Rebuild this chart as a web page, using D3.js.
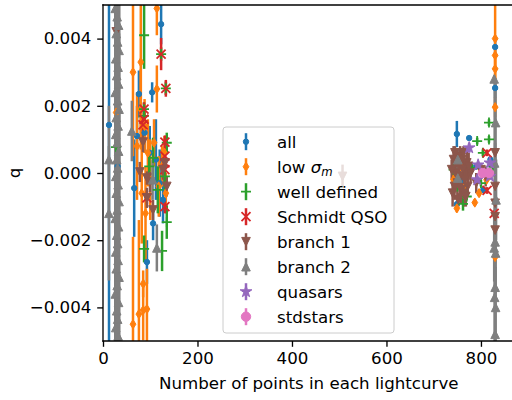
<!DOCTYPE html>
<html>
<head>
<meta charset="utf-8">
<script src="https://cdn.jsdelivr.net/npm/d3@7"></script>
<style>
  html, body { margin: 0; padding: 0; background: #fff; }
  svg { display: block; font-family: "DejaVu Sans", sans-serif; }
</style>
</head>
<body>
<svg id="chart" width="512" height="400"></svg>
<script>
// Each point: [number of points in lightcurve, q, error on q]
const allPts = [
  [12.7, 0.00143, 0.0075], [31, 0.0002, 0.0075], [66, -0.00045, 0.00145],
  [76, 0.00235, 0.0007], [104, 0.0024, 0.0003], [123, 0.00443, 0.0006],
  [93, -0.00265, 0.00065], [106, -0.0015, 0.0005], [112, 0.0004, 0.0012],
  [120, -0.0003, 0.001], [99, 0.0006, 0.0008], [88, 0.0012, 0.0006],
  [72, 0.0011, 0.0009], [127, -0.0008, 0.0007],
  [749, 0.00116, 0.00039], [775, 0.00104, 0.00005], [749, -0.00093, 0.0001],
  [830, 0.00375, 0.0003], [830, 0.00253, 0.0003], [760, -0.0002, 0.0002],
  [790, 0.0002, 0.0001], [805, -0.0005, 0.0001], [820, 0.0004, 0.0001]
];
const lowSigmaPts = [
  [28, 0.0018, 0.003], [63.5, 0.003, 0.0025], [63.5, -0.0045, 0.0026],
  [76, -0.0042, 0.0028], [80, 0.0033, 0.0022], [80, 0.0019, 0.0012],
  [72, 0.0008, 0.0016], [82, -0.0006, 0.0015], [85, -0.0033, 0.0004],
  [85, -0.00408, 0.0009], [88, 0.0014, 0.0008], [90, -0.0012, 0.0014],
  [93, -0.00405, 0.0012], [95, 0.0006, 0.001], [100, -0.0002, 0.0012],
  [108, 0.0009, 0.0007], [114, 0.0049, 0.0008], [114, 0.0025, 0.0007],
  [118, -0.0004, 0.0009], [125, 0.0002, 0.0006], [130, 0.0006, 0.0005],
  [133, -0.0006, 0.0006],
  [742, -0.0002, 0.0002], [746, -0.0001, 0.0001], [749, -0.00105, 0.00012],
  [757, 0.0002, 0.00015], [768, -0.00039, 0.00012], [787, -0.00088, 0.0001],
  [796, -0.0006, 0.0001], [800, 0.0001, 0.0001], [812, -0.0002, 0.0001],
  [830, 0.0040, 0.0012], [830, 0.0035, 0.0003], [830, 0.0031, 0.0003],
  [830, 0.00196, 0.0003], [830, -0.0025, 0.0002]
];
const wellDefinedPts = [
  [27.5, 0.00077, 0.0001], [87, 0.0041, 0.001], [86.8, 0.0019, 0.0002],
  [86.8, 0.0017, 0.0002], [123, 0.00354, 0.0002], [133, 0.00252, 0.0002],
  [106, 0.00045, 0.0006], [116, -0.0005, 0.0007], [135, -0.00146, 0.0005],
  [87, -0.00226, 0.0004], [125, -0.00232, 0.0006], [131, -0.0001, 0.0004],
  [135, 0.0009, 0.0003], [98, 0.0002, 0.0004],
  [817, 0.0015, 0.0001], [792, 0.00095, 0.0001], [817, 0.001, 0.0001],
  [762, -0.00092, 0.0002], [781, 0.00015, 0.0001], [804, 0.0006, 0.0001],
  [750, -0.0004, 0.0001], [800, -0.0003, 0.0001], [825, 0.0002, 0.0001],
  [770, -0.0007, 0.0001], [742, 0.0001, 0.0001]
];
const schmidtPts = [
  [123, 0.00354, 0.00048], [133, 0.00252, 0.00025], [86.8, 0.0019, 0.0002],
  [86.8, 0.0016, 0.0002], [84.7, 0.00143, 0.0002], [131, 0.00092, 0.0002],
  [131, 0.0005, 0.0002], [131, 0.0003, 0.0002], [131, 0.0001, 0.0002],
  [93, -0.00074, 0.0002], [131, -0.001, 0.0002],
  [813, -0.00052, 0.0001], [813, 0.0006, 0.0001], [828, -0.0012, 0.0001]
];
const branch1Pts = [
  [28, 0.0042, 0.0008], [84.7, 0.00092, 0.0003], [78, 0.00003, 0.0003],
  [93, -0.00015, 0.0002], [99.5, -0.00027, 0.0003], [93, -0.00074, 0.0003],
  [105.8, -0.0011, 0.0003], [127, 0.0001, 0.0003], [131, 0.0003, 0.0002],
  [135, -0.0004, 0.0003], [507, -0.0001, 0.00035],
  [742, 0.0004, 0.0004], [746, 0.0, 0.0005], [750, -0.0003, 0.0005],
  [754, 0.0002, 0.0005], [758, -0.0005, 0.0004], [762, 0.0001, 0.0005],
  [766, -0.0002, 0.0005], [770, 0.0003, 0.0004], [744, -0.0004, 0.0004],
  [756, 0.0005, 0.0003], [764, -0.0006, 0.0004], [748, 0.0003, 0.0003],
  [772, -0.0004, 0.0003], [778, 0.0, 0.0003], [790, -0.0003, 0.0003],
  [800, 0.0001, 0.0002], [810, -0.0001, 0.0003],
  [740, -0.0006, 0.0004], [745, 0.0006, 0.0002], [752, -0.0008, 0.0002],
  [760, 0.0004, 0.0003], [768, -0.0007, 0.0003], [774, 0.0002, 0.0004],
  [738, 0.0001, 0.0003], [755, -0.0001, 0.0006], [763, 0.0006, 0.0002],
  [830, -0.0009, 0.0003], [830, -0.0013, 0.0003], [830, -0.0017, 0.0002],
  [830, 0.0006, 0.0003], [830, -0.0004, 0.0002]
];
const branch2Pts = [
  [12.5, 0.0004, 0.0016], [12.5, -0.0012, 0.002], [61, 0.00125, 0.0009],
  [114, -0.00223, 0.0007], [105, -0.0002, 0.0006],
  [26, 0.0049, 0.004], [30, 0.00465, 0.005], [33, 0.0044, 0.004],
  [28, 0.00415, 0.005], [31, 0.0039, 0.006], [34, 0.00365, 0.004],
  [27, 0.0034, 0.005], [32, 0.00315, 0.006], [29, 0.0029, 0.005],
  [33, 0.00265, 0.004], [26, 0.0024, 0.006], [31, 0.00215, 0.005],
  [34, 0.0019, 0.004], [28, 0.00165, 0.006], [32, 0.0014, 0.005],
  [27, 0.00115, 0.004], [30, 0.0009, 0.005], [33, 0.00065, 0.004],
  [29, 0.0004, 0.005], [31, 0.00015, 0.004], [27, -0.0001, 0.005],
  [32, -0.00035, 0.004], [28, -0.0006, 0.006], [34, -0.00085, 0.005],
  [30, -0.0011, 0.004], [26, -0.00135, 0.005], [33, -0.0016, 0.006],
  [29, -0.00185, 0.004], [31, -0.0021, 0.005], [27, -0.00235, 0.004],
  [32, -0.0026, 0.005], [28, -0.00285, 0.004], [34, -0.0031, 0.005],
  [30, -0.00335, 0.004], [26, -0.0036, 0.005], [33, -0.00385, 0.004],
  [29, -0.0041, 0.005], [31, -0.00435, 0.004], [27, -0.0046, 0.005],
  [32, -0.00485, 0.004],
  [751, 0.0004, 0.0003], [751, -0.00015, 0.0003],
  [828, 0.0028, 0.0001], [831, 0.0015, 0.0012], [829, 0.0003, 0.0024],
  [832, -0.0008, 0.0012], [830, -0.00205, 0.0015], [828, -0.00223, 0.001],
  [831, -0.00238, 0.0012], [830, -0.0034, 0.0015], [829, -0.0037, 0.0013],
  [831, -0.004, 0.0012], [830, -0.0048, 0.002]
];
const quasarPts = [
  [775, 0.00075, 0.00015], [794, 0.00024, 0.0001], [819, 0.0003, 0.0002],
  [792, -0.0002, 0.0001], [819, -0.0001, 0.0001]
];
const stdstarPts = [
  [804, 0.0, 0.00005], [817, 0.0, 0.00005]
];

const xTicks = [0, 200, 400, 600, 800];
const yTicks = [0.004, 0.002, 0.000, -0.002, -0.004];

const series = [
  { label: "all",           color: "#1f77b4", marker: "point",   pts: allPts },
  { label: "low σm",        color: "#ff7f0e", marker: "thin",    pts: lowSigmaPts },
  { label: "well defined",  color: "#2ca02c", marker: "plus",    pts: wellDefinedPts },
  { label: "Schmidt QSO",   color: "#d62728", marker: "x",       pts: schmidtPts },
  { label: "branch 1",      color: "#8c564b", marker: "tridown", pts: branch1Pts },
  { label: "branch 2",      color: "#7f7f7f", marker: "triup",   pts: branch2Pts },
  { label: "quasars",       color: "#9467bd", marker: "star",    pts: quasarPts },
  { label: "stdstars",      color: "#e377c2", marker: "circle",  pts: stdstarPts }
];

const svg = d3.select("#chart");
const L = 103, R = 514.5, T = 5, B = 341;
const FS = 16.67;

const x = d3.scaleLinear().domain([0, 871]).range([L, R]);
const y = d3.scaleLinear().domain([-0.005, 0.005]).range([B, T]);

svg.append("defs").append("clipPath").attr("id", "plotClip")
  .append("rect").attr("x", L).attr("y", T).attr("width", R - L).attr("height", B - T);

function starPath(ro) {
  const ri = ro * 0.381966;
  const p = [];
  for (let i = 0; i < 10; i++) {
    const a = -Math.PI / 2 + i * Math.PI / 5;
    const r = i % 2 === 0 ? ro : ri;
    p.push([r * Math.cos(a), r * Math.sin(a)]);
  }
  return "M" + p.map(d => d[0].toFixed(2) + "," + d[1].toFixed(2)).join("L") + "Z";
}
const markerShapes = {
  point:   { d: "M2.7,0A2.7,2.7 0 1,1 -2.7,0A2.7,2.7 0 1,1 2.7,0Z", filled: true },
  thin:    { d: "M0,-4.6L2.9,0L0,4.6L-2.9,0Z", filled: true },
  plus:    { d: "M-5,0H5M0,-5V5", filled: false },
  x:       { d: "M-4.5,-4.5L4.5,4.5M-4.5,4.5L4.5,-4.5", filled: false },
  tridown: { d: "M-4.3,-4.3L4.3,-4.3L0,4.3Z", filled: true },
  triup:   { d: "M-4.3,4.3L4.3,4.3L0,-4.3Z", filled: true },
  star:    { d: starPath(6.2), filled: true },
  circle:  { d: "M4.7,0A4.7,4.7 0 1,1 -4.7,0A4.7,4.7 0 1,1 4.7,0Z", filled: true }
};

function drawMarker(g, kind, color, cx, cy) {
  const m = markerShapes[kind];
  g.append("path")
    .attr("d", m.d)
    .attr("transform", `translate(${cx},${cy})`)
    .attr("fill", m.filled ? color : "none")
    .attr("stroke", color)
    .attr("stroke-width", m.filled ? 1 : 1.8);
}

const plot = svg.append("g").attr("clip-path", "url(#plotClip)");

// error bars for every series sit beneath every marker
const barLayer = plot.append("g");
series.forEach(s => {
  barLayer.append("g").selectAll("line").data(s.pts).join("line")
    .attr("x1", d => x(d[0])).attr("x2", d => x(d[0]))
    .attr("y1", d => y(d[1] - d[2])).attr("y2", d => y(d[1] + d[2]))
    .attr("stroke", s.color).attr("stroke-width", 2.5);
});
const markLayer = plot.append("g");
series.forEach(s => {
  const g = markLayer.append("g");
  s.pts.forEach(d => drawMarker(g, s.marker, s.color, x(d[0]), y(d[1])));
});

// axes
const xAxis = d3.axisBottom(x).tickValues(xTicks).tickFormat(d3.format("d"))
  .tickSize(5.8).tickPadding(5.8).tickSizeOuter(0);
const yAxis = d3.axisLeft(y).tickValues(yTicks)
  .tickFormat(d => d3.format(".3f")(d).replace("-", "\u2212"))
  .tickSize(5.8).tickPadding(5.8).tickSizeOuter(0);

const gx = svg.append("g").attr("transform", `translate(0,${B})`).call(xAxis);
const gy = svg.append("g").attr("transform", `translate(${L},0)`).call(yAxis);
[gx, gy].forEach(g => {
  g.select(".domain").remove();
  g.selectAll(".tick line").attr("stroke", "#000").attr("stroke-width", 1.33);
  g.selectAll(".tick text").attr("fill", "#000")
    .style("font-family", "DejaVu Sans").style("font-size", FS + "px");
});

// spines
const spines = svg.append("g").attr("stroke", "#000").attr("stroke-width", 1.33)
  .attr("fill", "none").attr("stroke-linecap", "square");
spines.append("line").attr("x1", L).attr("x2", L).attr("y1", T).attr("y2", B);
spines.append("line").attr("x1", L).attr("x2", R).attr("y1", B).attr("y2", B);
spines.append("line").attr("x1", L).attr("x2", R).attr("y1", T).attr("y2", T);
spines.append("line").attr("x1", R).attr("x2", R).attr("y1", T).attr("y2", B);

// axis labels
svg.append("text").attr("x", (L + R) / 2).attr("y", 389)
  .attr("text-anchor", "middle").style("font-size", FS + "px")
  .text("Number of points in each lightcurve");
svg.append("text").attr("transform", `translate(20,${(T + B) / 2}) rotate(-90)`)
  .attr("text-anchor", "middle").style("font-size", FS + "px")
  .text("q");

// legend
const leg = svg.append("g");
leg.append("rect").attr("x", 223).attr("y", 127).attr("width", 171).attr("height", 206)
  .attr("rx", 3).attr("fill", "#fff").attr("fill-opacity", 0.8)
  .attr("stroke", "#cccccc").attr("stroke-width", 1);
series.forEach((s, i) => {
  const cy = 141.7 + i * 25;
  leg.append("line").attr("x1", 246).attr("x2", 246)
    .attr("y1", cy - 8.5).attr("y2", cy + 8.5)
    .attr("stroke", s.color).attr("stroke-width", 2.5);
  drawMarker(leg, s.marker, s.color, 246, cy);
  const t = leg.append("text").attr("x", 277).attr("y", cy + 6)
    .style("font-size", FS + "px");
  if (s.label === "low σm") {
    t.append("tspan").text("low ");
    t.append("tspan").style("font-style", "italic").text("σ");
    t.append("tspan").style("font-style", "italic").style("font-size", (FS * 0.7) + "px")
      .attr("dy", 3).text("m");
  } else {
    t.text(s.label);
  }
});
</script>
</body>
</html>
